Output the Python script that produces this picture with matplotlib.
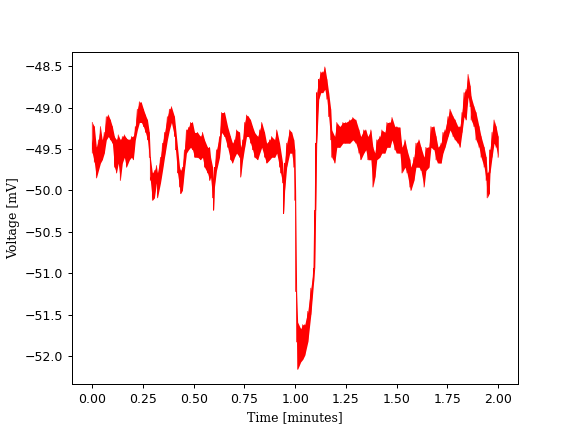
import numpy as np
import matplotlib
matplotlib.use("Agg")
import matplotlib.pyplot as plt

# time [minutes] and the upper / lower edge of the noisy voltage trace [mV]
t_min = [0.000, 0.010, 0.020, 0.030, 0.040, 0.049, 0.059, 0.069, 0.079, 0.089,
         0.099, 0.109, 0.119, 0.128, 0.138, 0.148, 0.158, 0.168, 0.183, 0.193,
         0.202, 0.212, 0.222, 0.232, 0.242, 0.252, 0.262, 0.272, 0.281, 0.286,
         0.296, 0.306, 0.316, 0.321, 0.336, 0.346, 0.356, 0.370, 0.380, 0.390,
         0.405, 0.410, 0.420, 0.430, 0.435, 0.444, 0.454, 0.464, 0.474, 0.484,
         0.494, 0.504, 0.519, 0.533, 0.543, 0.553, 0.568, 0.578, 0.583, 0.593,
         0.598, 0.602, 0.612, 0.627, 0.637, 0.652, 0.667, 0.681, 0.691, 0.701,
         0.711, 0.726, 0.731, 0.741, 0.751, 0.760, 0.770, 0.780, 0.790, 0.800,
         0.815, 0.825, 0.835, 0.849, 0.859, 0.874, 0.884, 0.899, 0.909, 0.923,
         0.928, 0.938, 0.943, 0.948, 0.958, 0.973, 0.983, 0.993, 0.998, 1.002,
         1.007, 1.012, 1.027, 1.037, 1.047, 1.062, 1.077, 1.091, 1.096, 1.101,
         1.106, 1.116, 1.126, 1.136, 1.146, 1.156, 1.165, 1.175, 1.180, 1.195,
         1.205, 1.220, 1.235, 1.249, 1.269, 1.284, 1.299, 1.314, 1.323, 1.338,
         1.348, 1.358, 1.373, 1.383, 1.393, 1.402, 1.417, 1.427, 1.442, 1.452,
         1.467, 1.477, 1.491, 1.501, 1.516, 1.526, 1.541, 1.551, 1.565, 1.570,
         1.585, 1.595, 1.610, 1.620, 1.635, 1.644, 1.659, 1.669, 1.684, 1.694,
         1.704, 1.719, 1.728, 1.738, 1.753, 1.763, 1.778, 1.788, 1.802, 1.812,
         1.822, 1.832, 1.842, 1.852, 1.862, 1.867, 1.881, 1.891, 1.906, 1.916,
         1.931, 1.941, 1.946, 1.956, 1.960, 1.970, 1.980, 1.990, 2.000]

v_top = [-49.18, -49.23, -49.48, -49.39, -49.23, -49.39, -49.30, -49.11, -49.09, -49.15,
         -49.23, -49.35, -49.39, -49.33, -49.39, -49.35, -49.33, -49.37, -49.39, -49.35,
         -49.35, -49.23, -49.02, -48.93, -48.94, -49.02, -49.09, -49.15, -49.30, -49.60,
         -49.79, -49.76, -49.70, -49.79, -49.60, -49.43, -49.30, -49.11, -49.02, -48.99,
         -49.11, -49.23, -49.48, -49.72, -49.76, -49.72, -49.51, -49.27, -49.24, -49.18,
         -49.18, -49.30, -49.30, -49.35, -49.30, -49.39, -49.48, -49.48, -49.60, -49.72,
         -49.88, -49.72, -49.51, -49.35, -49.06, -49.06, -49.23, -49.35, -49.43, -49.39,
         -49.27, -49.30, -49.48, -49.39, -49.18, -49.09, -49.11, -49.15, -49.23, -49.30,
         -49.35, -49.27, -49.18, -49.30, -49.43, -49.39, -49.35, -49.39, -49.27, -49.43,
         -49.51, -49.67, -49.84, -49.67, -49.43, -49.27, -49.30, -49.39, -49.51, -50.00,
         -51.22, -51.59, -51.67, -51.62, -51.62, -51.46, -51.18, -50.94, -50.24, -49.43,
         -48.82, -48.66, -48.57, -48.57, -48.51, -48.66, -48.82, -49.02, -49.27, -49.35,
         -49.18, -49.23, -49.18, -49.18, -49.15, -49.12, -49.15, -49.27, -49.35, -49.27,
         -49.27, -49.35, -49.27, -49.48, -49.55, -49.39, -49.35, -49.27, -49.30, -49.18,
         -49.18, -49.12, -49.23, -49.23, -49.24, -49.48, -49.39, -49.51, -49.63, -49.72,
         -49.60, -49.43, -49.39, -49.48, -49.60, -49.48, -49.48, -49.23, -49.23, -49.35,
         -49.48, -49.43, -49.30, -49.27, -49.11, -49.02, -49.11, -49.15, -49.23, -49.23,
         -49.06, -48.82, -48.78, -48.60, -48.74, -48.87, -48.99, -49.06, -49.23, -49.35,
         -49.48, -49.60, -49.79, -49.76, -49.51, -49.30, -49.15, -49.23, -49.35]

v_bot = [-49.55, -49.66, -49.85, -49.76, -49.67, -49.63, -49.55, -49.39, -49.35, -49.39,
         -49.43, -49.72, -49.79, -49.67, -49.88, -49.67, -49.60, -49.72, -49.63, -49.60,
         -49.63, -49.39, -49.27, -49.18, -49.18, -49.23, -49.30, -49.39, -49.60, -49.88,
         -50.12, -50.09, -49.91, -50.09, -49.91, -49.76, -49.60, -49.39, -49.27, -49.18,
         -49.35, -49.51, -49.79, -49.96, -50.04, -50.00, -49.76, -49.55, -49.51, -49.48,
         -49.51, -49.60, -49.60, -49.63, -49.60, -49.72, -49.79, -49.88, -49.84, -50.09,
         -50.24, -49.96, -49.76, -49.60, -49.30, -49.35, -49.48, -49.63, -49.67, -49.60,
         -49.55, -49.60, -49.84, -49.63, -49.48, -49.35, -49.35, -49.43, -49.51, -49.60,
         -49.63, -49.55, -49.48, -49.60, -49.67, -49.63, -49.60, -49.60, -49.55, -49.72,
         -49.79, -49.91, -50.28, -50.00, -49.72, -49.55, -49.55, -49.72, -50.12, -51.22,
         -51.83, -52.16, -52.07, -52.04, -51.99, -51.83, -51.50, -51.10, -50.94, -50.24,
         -49.43, -48.90, -48.82, -48.82, -48.78, -48.90, -49.11, -49.39, -49.60, -49.67,
         -49.48, -49.48, -49.43, -49.43, -49.43, -49.39, -49.43, -49.55, -49.63, -49.55,
         -49.51, -49.63, -49.63, -49.96, -49.84, -49.63, -49.60, -49.55, -49.55, -49.48,
         -49.48, -49.39, -49.51, -49.55, -49.55, -49.79, -49.72, -49.79, -49.96, -50.00,
         -49.88, -49.72, -49.72, -49.76, -49.96, -49.76, -49.72, -49.48, -49.51, -49.63,
         -49.67, -49.67, -49.55, -49.48, -49.35, -49.27, -49.35, -49.39, -49.43, -49.48,
         -49.30, -49.11, -49.15, -48.87, -48.99, -49.15, -49.23, -49.39, -49.48, -49.60,
         -49.72, -49.88, -50.09, -50.04, -49.79, -49.60, -49.43, -49.48, -49.60]

# zig-zag between the two edges so the line looks like the noisy trace
t_trace = np.repeat(t_min, 2)
v_trace = np.column_stack([v_top, v_bot]).ravel()

fig = plt.figure(figsize=(6.4, 4.8), dpi=90)
ax = fig.add_subplot(111)
# solid core of the noise band, then the ragged trace on top
ax.fill_between(t_min, v_bot, v_top, color='red', linewidth=0)
ax.plot(t_trace, v_trace, color='red', linewidth=0.6)
ax.set_xlabel('Time [minutes]', family='serif')
ax.set_ylabel('Voltage [mV]', family='serif')
ax.set_xticks([0.0, 0.25, 0.5, 0.75, 1.0, 1.25, 1.5, 1.75, 2.0])
fig.savefig('out.png', dpi=90)
